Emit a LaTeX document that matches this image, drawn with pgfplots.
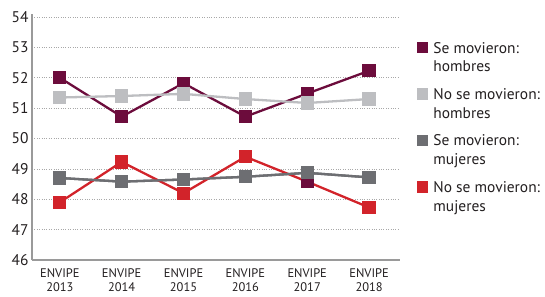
\documentclass[border=0pt]{standalone}
\usepackage{fontspec}
\setmainfont{PT Sans}
\usepackage{pgfplots}
\pgfplotsset{compat=1.18}
\definecolor{cmaroon}{HTML}{6C0C3C}
\definecolor{clgray}{HTML}{BDBEC1}
\definecolor{cdgray}{HTML}{6D6E72}
\definecolor{cred}{HTML}{D2232A}
\definecolor{gridc}{HTML}{A8A8A8}
\definecolor{axisc}{HTML}{9A9A9A}
\definecolor{textc}{HTML}{231F20}
\begin{document}
\begin{tikzpicture}
\begin{axis}[
  at={(0,0)}, anchor=south west,
  scale only axis, width=368bp, height=246bp,
  xmin=-0.45, xmax=5.5, ymin=46, ymax=54.1,
  axis lines*=left,
  axis line style={axisc, line width=1.3bp},
  xtick={0,...,5},
  xticklabels={{ENVIPE\\2013},{ENVIPE\\2014},{ENVIPE\\2015},{ENVIPE\\2016},{ENVIPE\\2017},{ENVIPE\\2018}},
  xticklabel style={align=center, font=\fontsize{12.5}{14}\selectfont, text=textc, yshift=-5bp},
  ytick={46,...,54},
  yticklabel style={font=\fontsize{15.5}{18}\selectfont, text=textc},
  /pgf/number format/assume math mode=true,
  major tick length=0pt,
  ymajorgrids, grid style={gridc, dotted, line width=0.7bp},
  every axis plot/.append style={line width=2.3bp, mark=square*, mark size=5.5bp},
  legend image code/.code={\fill[#1] (0bp,5.5bp) rectangle (9bp,14.5bp);},
  legend style={at={(1.046,0.895)}, anchor=north west, draw=none, fill=none,
    inner sep=0pt, font=\fontsize{15.5}{19}\selectfont, text=textc,
    row sep=11bp, cells={anchor=west, align=left},
    /tikz/every odd column/.append style={column sep=3bp}},
]
\addplot[cmaroon] coordinates {(0,52.0) (1,50.72) (2,51.82) (3,50.72) (4,51.48) (5,52.23)};
\addlegendentry{Se movieron:\\hombres}
\addplot[clgray] coordinates {(0,51.35) (1,51.4) (2,51.47) (3,51.3) (4,51.17) (5,51.3)};
\addlegendentry{No se movieron:\\hombres}
\addplot[cdgray] coordinates {(0,48.7) (1,48.58) (2,48.65) (3,48.74) (4,48.87) (5,48.72)};
\addlegendentry{Se movieron:\\mujeres}
\addplot[cred] coordinates {(0,47.9) (1,49.23) (2,48.2) (3,49.4) (4,48.58) (5,47.73)};
\addlegendentry{No se movieron:\\mujeres}
\addplot[cmaroon, only marks, forget plot] coordinates {(4,48.6)};
\addplot[cdgray, forget plot] coordinates {(0,48.7) (1,48.58) (2,48.65) (3,48.74) (4,48.87) (5,48.72)};
\end{axis}
\pgfresetboundingbox
\path[use as bounding box] (-32bp,-37bp) rectangle (513bp,260bp);
\end{tikzpicture}
\end{document}
